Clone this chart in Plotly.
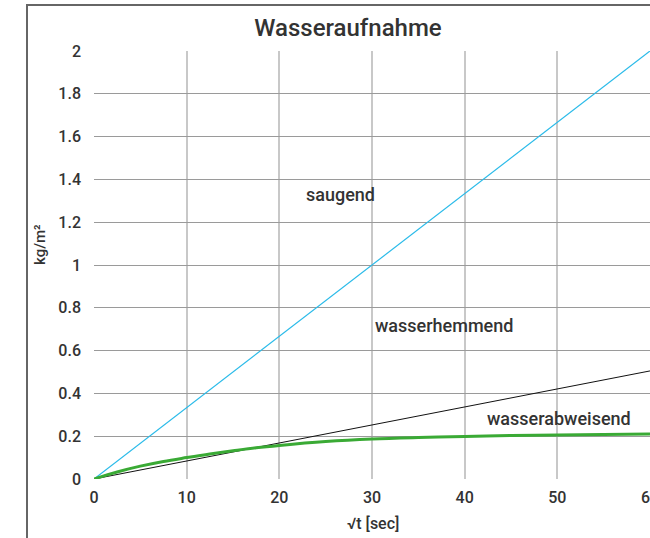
import plotly.graph_objects as go

# Data
x_lin = [0, 60]
saugend = [0, 2.0]
wasserhemmend = [0, 0.505]
x_abw = [0, 2.5, 5, 7.5, 10, 12.5, 15, 17.5, 20, 25, 30, 35, 40, 45, 50, 55, 60]
wasserabweisend = [0, 0.033, 0.06, 0.082, 0.1, 0.117, 0.132, 0.146, 0.157, 0.175,
                   0.187, 0.194, 0.199, 0.203, 0.206, 0.208, 0.21]
x_ticks = [0, 10, 20, 30, 40, 50, 60]
y_ticks = [0, 0.2, 0.4, 0.6, 0.8, 1, 1.2, 1.4, 1.6, 1.8, 2]
y_ticklabels = ["0", "0.2", "0.4", "0.6", "0.8", "1", "1.2", "1.4", "1.6", "1.8", "2"]
labels = [("saugend", 26.6, 1.33), ("wasserhemmend", 37.8, 0.715), ("wasserabweisend", 50.2, 0.285)]

FONT = "Roboto"
TXT = "#333333"

W, H = 650, 538
L, R, T, B = 94, 0, 51, 59
PW, PH = W - L - R, H - T - B

def px_x(p):
    return (p - L) / PW

def px_y(p):
    return (H - B - p) / PH

fig = go.Figure()
fig.add_trace(go.Scatter(x=x_lin, y=saugend, mode="lines",
                         line=dict(color="#2bbbe9", width=1.2), showlegend=False))
fig.add_trace(go.Scatter(x=x_lin, y=wasserhemmend, mode="lines",
                         line=dict(color="#111111", width=1), showlegend=False))
fig.add_trace(go.Scatter(x=x_abw, y=wasserabweisend, mode="lines",
                         line=dict(color="#3aaa35", width=3, shape="spline"), showlegend=False))

for txt, lx, ly in labels:
    fig.add_annotation(x=lx, y=ly, text=txt, showarrow=False,
                       font=dict(family=FONT, size=18, color=TXT, weight=500))

# axis titles as annotations
fig.add_annotation(xref="paper", yref="paper", x=px_x(40), y=px_y(244), text="kg/m²",
                   textangle=-90, showarrow=False, xanchor="center", yanchor="middle",
                   font=dict(family=FONT, size=15, color=TXT, weight=500))
fig.add_annotation(xref="paper", yref="paper", x=px_x(373), y=px_y(523), text="√t [sec]",
                   showarrow=False, xanchor="center", yanchor="middle",
                   font=dict(family=FONT, size=16, color=TXT, weight=500))

fig.add_shape(type="rect", xref="paper", yref="paper", x0=px_x(27), x1=px_x(720),
              y0=px_y(600), y1=px_y(5),
              line=dict(color="#666666", width=2), layer="below")

fig.update_layout(
    width=W, height=H,
    margin=dict(l=L, r=R, t=T, b=B, autoexpand=False),
    paper_bgcolor="white", plot_bgcolor="white",
    title=dict(text="Wasseraufnahme", x=348 / W, xanchor="center",
               y=1 - 28 / H, yanchor="middle",
               font=dict(family=FONT, size=24, color=TXT, weight=500)),
    xaxis=dict(range=[0, 60.001], tickvals=x_ticks, showgrid=True, gridcolor="#c8c8c8", gridwidth=1.5,
               zeroline=False, showline=False, ticks="", ticklen=0, ticklabelstandoff=7,
               ticklabeloverflow="allow", automargin=False,
               tickfont=dict(family=FONT, size=16, color=TXT, weight=500)),
    yaxis=dict(range=[0, 2], tickvals=y_ticks, ticktext=y_ticklabels, showgrid=True,
               gridcolor="#9a9a9a", gridwidth=1.2, zeroline=False, showline=False, automargin=False,
               tickfont=dict(family=FONT, size=16, color=TXT, weight=500), ticklabelstandoff=12),
)
fig.write_html(
    "out.html", config={"displayModeBar": False},
    post_script=(
        "document.documentElement.style.overflow='hidden';"
        "document.body.style.margin='0';document.body.style.overflow='hidden';"
        "var d=document.getElementById('{plot_id}');d.style.overflow='hidden';"
        "d.querySelectorAll('svg').forEach(function(s){s.style.overflow='hidden';});"
    ),
)
